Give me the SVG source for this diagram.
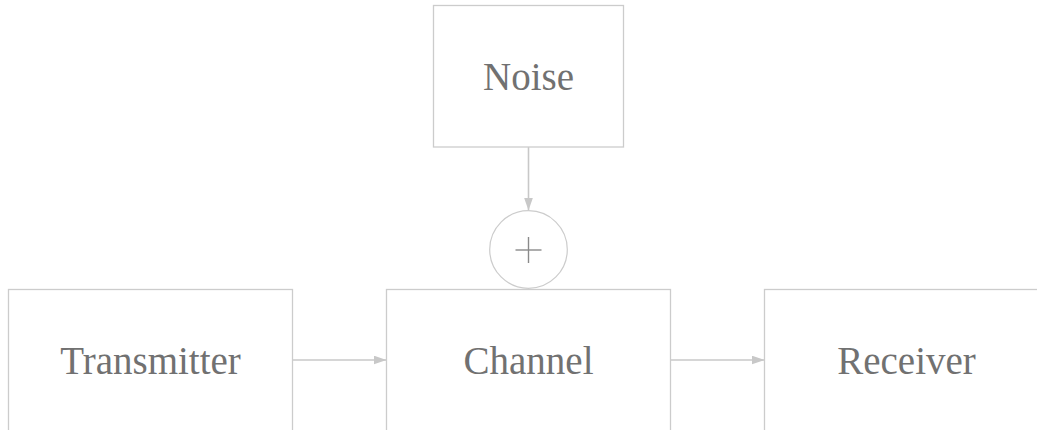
<svg xmlns="http://www.w3.org/2000/svg" width="1037" height="430" viewBox="0 0 1037 430">
  <style>
    .box { fill: #ffffff; stroke: #cccccc; stroke-width: 1.3; }
    .label { font-family: "Liberation Serif", "Times New Roman", serif; font-size: 39px; fill: #717171; text-anchor: middle; }
    .wire { stroke: #c8c8c8; stroke-width: 1.6; fill: none; }
    .sum { fill: #ffffff; stroke: #cccccc; stroke-width: 1.2; }
    .plus { stroke: #8a8a8a; stroke-width: 1.4; }
  </style>
  <defs>
    <marker id="arrow" viewBox="0 0 13 9" refX="13" refY="4.5" markerWidth="13" markerHeight="9" markerUnits="userSpaceOnUse" orient="auto">
      <path d="M0,0 L13,4.5 L0,9 Z" fill="#c8c8c8"/>
    </marker>
  </defs>

  <rect width="1037" height="430" fill="#ffffff"/>

  <!-- connectors -->
  <g id="connectors">
    <line class="wire" x1="528.5" y1="147" x2="528.5" y2="210.5" marker-end="url(#arrow)"/>
    <line class="wire" x1="292.5" y1="360" x2="386.5" y2="360" marker-end="url(#arrow)"/>
    <line class="wire" x1="670.5" y1="360" x2="764.5" y2="360" marker-end="url(#arrow)"/>
  </g>

  <g id="noise">
    <rect class="box" x="433.5" y="5.5" width="190" height="141.5"/>
    <text class="label" x="528.5" y="90">Noise</text>
  </g>

  <g id="transmitter">
    <rect class="box" x="8.5" y="289.5" width="284" height="145"/>
    <text class="label" x="150.5" y="374">Transmitter</text>
  </g>

  <g id="channel">
    <rect class="box" x="386.5" y="289.5" width="284" height="145"/>
    <text class="label" x="528.5" y="374">Channel</text>
  </g>

  <g id="receiver">
    <rect class="box" x="764.5" y="289.5" width="284" height="145"/>
    <text class="label" x="906.5" y="374">Receiver</text>
  </g>

  <g id="adder">
    <circle class="sum" cx="528.5" cy="249.5" r="38.8"/>
    <line class="plus" x1="515.5" y1="250" x2="541.5" y2="250"/>
    <line class="plus" x1="528.5" y1="237" x2="528.5" y2="263"/>
  </g>
</svg>
